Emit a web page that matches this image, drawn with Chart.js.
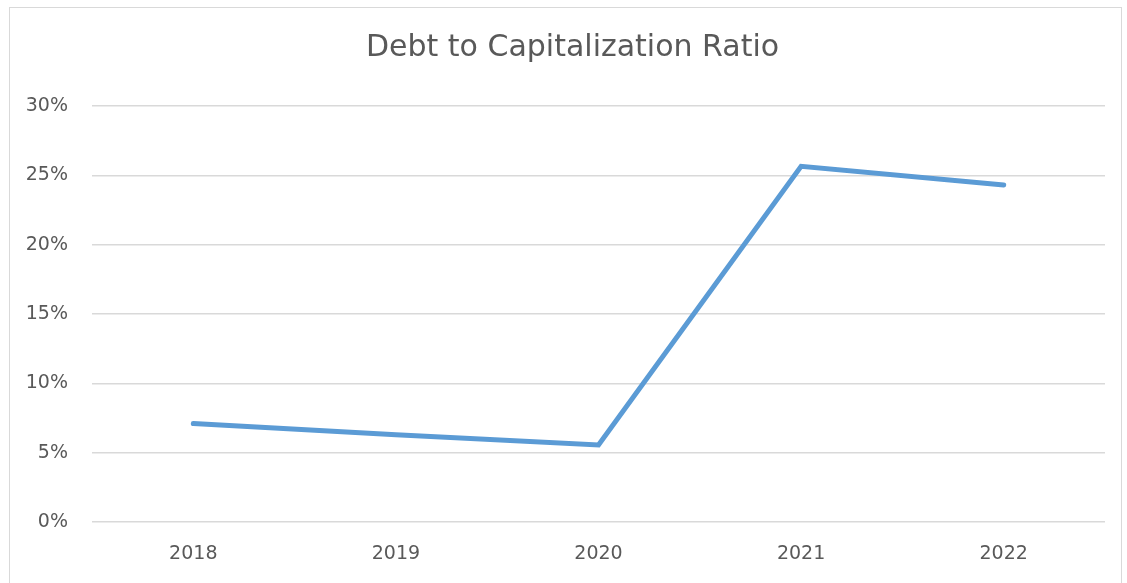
<!DOCTYPE html>
<html>
<head>
<meta charset="utf-8">
<script src="https://cdn.jsdelivr.net/npm/chart.js@4/dist/chart.umd.min.js"></script>
<style>
  html, body { margin: 0; padding: 0; background: #fff; }
  #wrap { position: relative; width: 1127px; height: 583px; }
  #frame {
    position: absolute; left: 9px; top: 7px; width: 1113px; height: 590px;
    border: 1px solid #d9d9d9; box-sizing: border-box; pointer-events: none;
  }
  canvas { position: absolute; left: 0; top: 0; }
</style>
</head>
<body>
<div id="wrap">
  <canvas id="chart" width="1127" height="583"></canvas>
  <div id="frame"></div>
</div>
<script>
// chart data
const years = ['2018', '2019', '2020', '2021', '2022'];
const debtToCapPct = [7.1, 6.3, 5.55, 25.65, 24.3];
const yTicks = [0, 5, 10, 15, 20, 25, 30];

const TEXT_COLOR = '#595959';
const GRID_COLOR = '#d9d9d9';
const LINE_COLOR = '#5b9bd5';
const FONT = '"DejaVu Sans", "Open Sans", sans-serif';

// nudge the title centre to the right, like the original
const titleShift = {
  id: 'titleShift',
  afterLayout: (chart) => {
    if (chart.titleBlock) chart.titleBlock.left += 40;
  }
};

new Chart(document.getElementById('chart'), {
  type: 'line',
  data: {
    labels: years,
    datasets: [{
      label: 'Debt to Capitalization Ratio',
      data: debtToCapPct,
      borderColor: LINE_COLOR,
      borderWidth: 5,
      borderCapStyle: 'round',
      borderJoinStyle: 'miter',
      pointRadius: 0,
      tension: 0,
      fill: false
    }]
  },
  options: {
    responsive: false,
    animation: false,
    layout: { padding: { left: 0, right: 22, top: 0, bottom: 0 } },
    plugins: {
      legend: { display: false },
      tooltip: { enabled: false },
      title: {
        display: true,
        text: 'Debt to Capitalization Ratio',
        color: TEXT_COLOR,
        font: { family: FONT, size: 30, weight: 'normal' },
        padding: { top: 30, bottom: 40 }
      }
    },
    scales: {
      x: {
        offset: true,
        grid: { display: false, drawTicks: false },
        border: { display: false },
        ticks: {
          color: TEXT_COLOR,
          font: { family: FONT, size: 19 },
          padding: 21,
          maxRotation: 0
        },
        afterFit: (scale) => { scale.height = 61; }
      },
      y: {
        min: 0,
        max: 30,
        afterBuildTicks: (scale) => { scale.ticks = yTicks.map(v => ({ value: v })); },
        grid: { color: GRID_COLOR, lineWidth: 1.5, drawTicks: false },
        border: { display: false },
        ticks: {
          color: TEXT_COLOR,
          font: { family: FONT, size: 19 },
          padding: 24,
          callback: (v) => v + '%'
        },
        afterFit: (scale) => { scale.width = 92; }
      }
    }
  },
  plugins: [titleShift]
});
</script>
</body>
</html>
